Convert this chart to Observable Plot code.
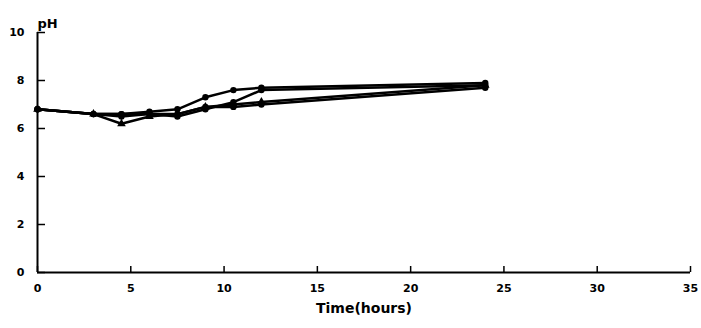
<!DOCTYPE html>
<html>
<head>
<meta charset="utf-8">
<script src="https://cdn.jsdelivr.net/npm/d3@7"></script>
<script src="https://cdn.jsdelivr.net/npm/@observablehq/plot@0.6"></script>
<style>
  html, body { margin: 0; padding: 0; background: #fff; }
  #chart { width: 701px; height: 328px; position: relative; }
  svg { font-family: "DejaVu Sans", Arial, sans-serif; font-weight: bold; }
</style>
</head>
<body>
<div id="chart"></div>
<script>
const times = [0, 3, 4.5, 6, 7.5, 9, 10.5, 12, 24];
const seriesA = [6.8, 6.6, 6.6, 6.7, 6.8, 7.3, 7.6, 7.7, 7.9];
const seriesB = [6.8, 6.6, 6.2, 6.5, 6.6, 6.9, 7.0, 7.1, 7.8];
const seriesC = [6.8, 6.6, 6.5, 6.6, 6.5, 6.8, 7.1, 7.6, 7.8];
const seriesD = [6.8, 6.6, 6.6, 6.6, 6.6, 6.9, 6.9, 7.0, 7.7];
const seriesNames = ["A", "B", "C", "D"];
const seriesSymbols = ["circle", "triangle", "circle", "circle"];
const xTicks = [0, 5, 10, 15, 20, 25, 30, 35];
const yTicks = [0, 2, 4, 6, 8, 10];

const allSeries = [seriesA, seriesB, seriesC, seriesD];
const rows = [];
allSeries.forEach((vals, i) => {
  vals.forEach((v, j) => rows.push({series: seriesNames[i], sym: seriesSymbols[i], t: times[j], pH: v}));
});

const chart = Plot.plot({
  width: 701,
  height: 328,
  marginLeft: 37,
  marginRight: 11,
  marginTop: 32,
  marginBottom: 56,
  style: {fontSize: "11px", fontWeight: "bold", fontFamily: "DejaVu Sans, Arial, sans-serif", color: "#000"},
  x: {domain: [0, 35]},
  y: {domain: [0, 10]},
  symbol: {domain: ["circle", "triangle"], range: ["circle", "triangle"]},
  marks: [
    Plot.axisX({ticks: xTicks, tickSize: -6, tickPadding: 18, label: null, fontSize: 11, strokeWidth: 1.5}),
    Plot.axisY({ticks: yTicks, tickSize: -8, tickPadding: 21, label: null, fontSize: 11, strokeWidth: 1.5}),
    Plot.ruleY([0], {stroke: "#000", strokeWidth: 2}),
    Plot.ruleX([0], {stroke: "#000", strokeWidth: 2}),
    Plot.line(rows, {x: "t", y: "pH", z: "series", stroke: "#000", strokeWidth: 2.5}),
    Plot.dot(rows, {x: "t", y: "pH", symbol: "sym", fill: "#000", r: 3.2}),
    Plot.text(["Time(hours)"], {frameAnchor: "bottom", dy: 40, fontSize: 14, fontWeight: "bold", fill: "#000"}),
    Plot.text(["pH"], {frameAnchor: "top-left", dx: 0, dy: -14, textAnchor: "start", fontSize: 13, fontWeight: "bold", fill: "#000"})
  ]
});
document.getElementById("chart").appendChild(chart);
</script>
</body>
</html>
